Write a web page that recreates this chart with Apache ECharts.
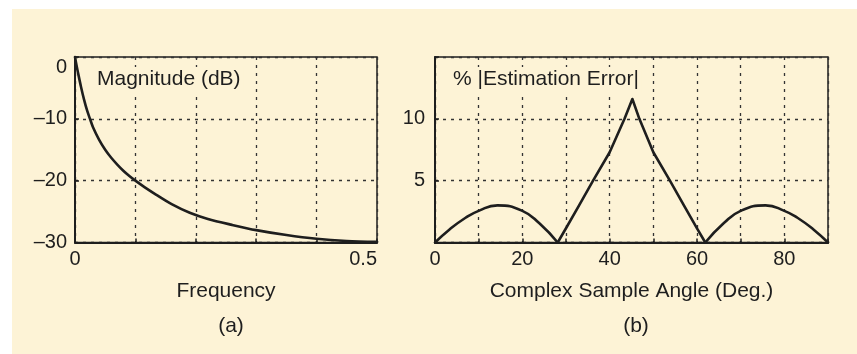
<!DOCTYPE html>
<html>
<head>
<meta charset="utf-8">
<script src="https://cdn.jsdelivr.net/npm/echarts@6/dist/echarts.min.js"></script>
<style>
html,body{margin:0;padding:0;background:#ffffff;}
#panel{position:absolute;left:12px;top:9px;width:845px;height:345px;background:#FDF3D6;}
#chart{position:absolute;left:0;top:0;width:857px;height:354px;}
</style>
</head>
<body>
<div id="panel"></div>
<div id="chart"></div>
<script>
// (a) Magnitude (dB) vs Frequency
var freqA = [0, 0.0025, 0.005, 0.01, 0.015, 0.02, 0.025, 0.03, 0.04, 0.05, 0.06, 0.07, 0.08, 0.09, 0.1, 0.115, 0.134, 0.16, 0.19, 0.22, 0.26, 0.3, 0.35, 0.4, 0.45, 0.5];
var magA  = [0, -1.35, -2.55, -4.85, -6.9, -8.65, -10.05, -11.4, -13.4, -15, -16.3, -17.4, -18.4, -19.25, -20, -21.05, -22.25, -23.8, -25.2, -26.2, -27.15, -28.0, -28.8, -29.4, -29.75, -29.9];

// (b) % |Estimation Error| vs Complex Sample Angle (deg), in four pieces
var angleArc1 = [0, 3.2, 7, 10, 14.3, 20, 23.9, 28.1];
var errArc1   = [0, 1.02, 2.0, 2.56, 3.0, 2.56, 1.55, 0];
var angleV    = [28.1, 30, 33, 36.2, 40, 43.4, 45.2, 46.8, 50, 53.8, 57, 60, 61.9];
var errV      = [0, 1.15, 3.0, 5.0, 7.3, 10, 11.6, 10, 7.3, 5.0, 3.0, 1.15, 0];
var angleArc2 = [61.9, 66.1, 70, 75.7, 80, 83, 86.8, 90];
var errArc2   = [0, 1.55, 2.56, 3.0, 2.56, 2.0, 1.02, 0];

var xTicksA = [0, 0.5];
var yTicksA = [0, -10, -20, -30];
var xTicksB = [0, 20, 40, 60, 80];
var yTicksB = [5, 10];

var FONT = '"Liberation Sans", Arial, Helvetica, sans-serif';
var INK = '#1e1e1e';
var BG = '#FDF3D6';

function pairs(xs, ys){ return xs.map(function(x,i){ return [x, ys[i]]; }); }
function fmtNum(v){ return v < 0 ? '\u2013' + (-v) : String(v); }

var chart = echarts.init(document.getElementById('chart'), null, {renderer:'canvas'});

var gridLine = {show:true, lineStyle:{color:'#333', width:1.3, type:[3,5]}};
var labelBase = {fontFamily:FONT, fontSize:20, color:INK};
var nameStyle = {fontFamily:FONT, fontSize:21, color:INK};
var curve = {color:INK, width:2.6, join:'round', cap:'round'};

var option = {
  backgroundColor:'transparent',
  animation:false,
  grid:[
    {left:75, top:57, width:302, height:185.5, show:true, borderColor:INK, borderWidth:1.5, backgroundColor:'transparent'},
    {left:435, top:57, width:393, height:185.5, show:true, borderColor:INK, borderWidth:1.5, backgroundColor:'transparent'}
  ],
  xAxis:[
    {type:'value', gridIndex:0, min:0, max:0.5, interval:0.1,
     axisLine:{show:true, onZero:false, lineStyle:{color:INK, width:2}},
     axisTick:{show:true, inside:true, length:4, lineStyle:{color:INK, width:1.5}},
     splitLine:gridLine,
     axisLabel:Object.assign({}, labelBase, {margin:7, showMinLabel:true, showMaxLabel:true,
       formatter:function(v){ return xTicksA.indexOf(Math.round(v*10)/10) >= 0 ? String(v) : ''; },
       alignMaxLabel:'right'}),
     name:'Frequency', nameLocation:'middle', nameGap:38, nameTextStyle:nameStyle},
    {type:'value', gridIndex:1, min:0, max:90, interval:10,
     axisLine:{show:true, onZero:false, lineStyle:{color:INK, width:2}},
     axisTick:{show:true, inside:true, length:4, lineStyle:{color:INK, width:1.5}},
     splitLine:gridLine,
     axisLabel:Object.assign({}, labelBase, {margin:7,
       formatter:function(v){ return xTicksB.indexOf(v) >= 0 ? String(v) : ''; }}),
     name:'Complex Sample Angle (Deg.)', nameLocation:'middle', nameGap:38, nameTextStyle:nameStyle}
  ],
  yAxis:[
    {type:'value', gridIndex:0, min:-30, max:0, interval:10,
     axisLine:{show:true, onZero:false, lineStyle:{color:INK, width:2}},
     axisTick:{show:true, inside:true, length:4, lineStyle:{color:INK, width:1.5}},
     splitLine:gridLine,
     axisLabel:Object.assign({}, labelBase, {margin:8,
       formatter:function(v){ return yTicksA.indexOf(v) >= 0 ? fmtNum(v) : ''; },
       verticalAlignMaxLabel:'top'})},
    {type:'value', gridIndex:1, min:0, max:15, interval:5,
     axisLine:{show:true, onZero:false, lineStyle:{color:INK, width:2}},
     axisTick:{show:true, inside:true, length:4, lineStyle:{color:INK, width:1.5}},
     splitLine:gridLine,
     axisLabel:Object.assign({}, labelBase, {margin:10,
       formatter:function(v){ return yTicksB.indexOf(v) >= 0 ? String(v) : ''; }})}
  ],
  title:[
    {text:'(a)', left:226, top:311, textAlign:'center', textStyle:{fontFamily:FONT, fontSize:21, fontWeight:'normal', color:INK}},
    {text:'(b)', left:631, top:311, textAlign:'center', textStyle:{fontFamily:FONT, fontSize:21, fontWeight:'normal', color:INK}}
  ],
  graphic:[
    {type:'text', left:94, top:67, z:1, style:{text:'Magnitude (dB)', font:'21px ' + FONT, fill:INK, backgroundColor:BG, padding:[2,3,2,3]}},
    {type:'text', left:450, top:67, z:1, style:{text:'% |Estimation Error|', font:'21px ' + FONT, fill:INK, backgroundColor:BG, padding:[2,3,2,3]}}
  ],
  series:[
    {type:'line', xAxisIndex:0, yAxisIndex:0, data:pairs(freqA, magA), smooth:0.3, showSymbol:false, lineStyle:curve, clip:false, z:3},
    {type:'line', xAxisIndex:1, yAxisIndex:1, data:pairs(angleArc1, errArc1), smooth:0.5, showSymbol:false, lineStyle:curve, clip:false, z:3},
    {type:'line', xAxisIndex:1, yAxisIndex:1, data:pairs(angleV, errV), smooth:false, showSymbol:false, lineStyle:curve, clip:false, z:3},
    {type:'line', xAxisIndex:1, yAxisIndex:1, data:pairs(angleArc2, errArc2), smooth:0.5, showSymbol:false, lineStyle:curve, clip:false, z:3}
  ]
};
chart.setOption(option);
</script>
</body>
</html>
